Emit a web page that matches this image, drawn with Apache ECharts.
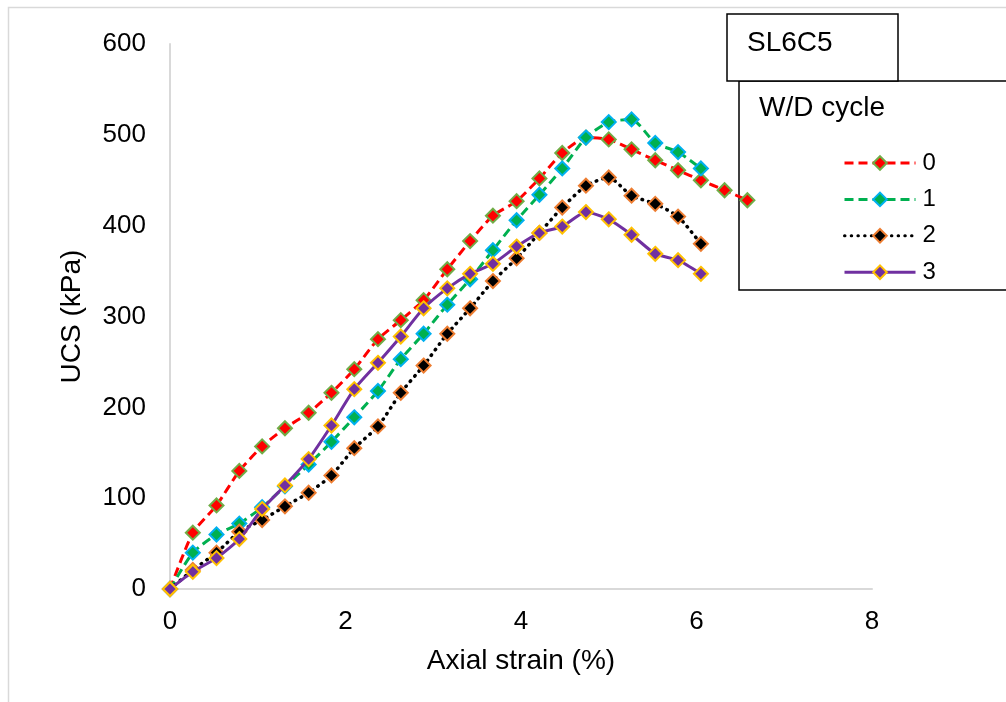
<!DOCTYPE html>
<html>
<head>
<meta charset="utf-8">
<script src="https://cdn.jsdelivr.net/npm/echarts@6/dist/echarts.min.js"></script>
<style>
  html, body { margin: 0; padding: 0; background: #fff; }
  #chart { width: 1006px; height: 702px; }
</style>
</head>
<body>
<div id="chart"></div>
<script>
// Axial strain (%) at each reading
const strain = [0, 0.26, 0.53, 0.79, 1.05, 1.31, 1.58, 1.84, 2.10, 2.37, 2.63, 2.89, 3.16,
                3.42, 3.68, 3.95, 4.21, 4.47, 4.74, 5.00, 5.26, 5.53, 5.79, 6.05, 6.32, 6.58];

// UCS (kPa) for each wetting/drying cycle
const ucsCycle0 = [0, 62, 92, 130, 157, 177, 194, 216, 242, 275, 296, 318, 352,
                   383, 411, 427, 452, 480, 497, 495, 484, 472, 461, 450, 439, 428];
const ucsCycle1 = [0, 40, 60, 72, 90, 113, 137, 162, 189, 218, 253, 281, 313,
                   341, 373, 406, 434, 463, 497, 514, 517, 491, 481, 463];
const ucsCycle2 = [0, 21, 40, 63, 76, 91, 106, 125, 155, 179, 216, 246, 281,
                   309, 339, 364, 392, 420, 444, 453, 433, 424, 410, 380];
const ucsCycle3 = [0, 19, 34, 55, 88, 114, 143, 180, 220, 249, 278, 309, 331,
                   347, 358, 377, 392, 399, 415, 407, 390, 369, 362, 347];

const cycleNames = ['0', '1', '2', '3'];
const xTicks = { min: 0, max: 8, step: 2 };
const yTicks = { min: 0, max: 600, step: 100 };

const FONT = '"Liberation Sans", Arial, sans-serif';

function pairs(values) {
  return values.map((v, i) => [strain[i], v]);
}

const styles = [
  { line: '#FF0000', fill: '#FF0000', border: '#70AD47', dash: [9, 5], cap: 'butt' },
  { line: '#00B050', fill: '#00B050', border: '#00B0F0', dash: [9, 5], cap: 'butt' },
  { line: '#000000', fill: '#000000', border: '#ED7D31', dash: [0.5, 6.2], cap: 'round' },
  { line: '#7030A0', fill: '#7030A0', border: '#FFC000', dash: 'solid', cap: 'butt' }
];
const seriesValues = [ucsCycle0, ucsCycle1, ucsCycle2, ucsCycle3];

const series = seriesValues.map((vals, k) => ({
  name: cycleNames[k],
  type: 'line',
  data: pairs(vals),
  smooth: 0.2,
  symbol: 'diamond',
  symbolSize: 14,
  z: 2 + k,
  itemStyle: { color: styles[k].fill, borderColor: styles[k].border, borderWidth: 2 },
  lineStyle: { color: styles[k].line, width: k === 2 ? 3.5 : 3, type: styles[k].dash, cap: styles[k].cap },
  emphasis: { disabled: true }
}));

const chart = echarts.init(document.getElementById('chart'), null, { renderer: 'canvas' });
chart.setOption({
  animation: false,
  backgroundColor: '#ffffff',
  grid: { left: 170, right: 134, top: 44, bottom: 113, containLabel: false },
  xAxis: {
    type: 'value',
    min: xTicks.min, max: xTicks.max, interval: xTicks.step,
    axisLine: { show: true, lineStyle: { color: '#D9D9D9', width: 2 } },
    axisTick: { show: false },
    splitLine: { show: false },
    axisLabel: { color: '#000', fontSize: 26, fontFamily: FONT, margin: 20 },
    name: 'Axial strain (%)',
    nameLocation: 'middle',
    nameGap: 58,
    nameTextStyle: { color: '#000', fontSize: 28, fontFamily: FONT }
  },
  yAxis: {
    type: 'value',
    min: yTicks.min, max: yTicks.max, interval: yTicks.step,
    axisLine: { show: true, lineStyle: { color: '#D9D9D9', width: 2 } },
    axisTick: { show: false },
    splitLine: { show: false },
    axisLabel: { color: '#000', fontSize: 26, fontFamily: FONT, margin: 24 },
    name: 'UCS (kPa)',
    nameLocation: 'middle',
    nameGap: 84,
    nameTextStyle: { color: '#000', fontSize: 28, fontFamily: FONT }
  },
  legend: {
    data: cycleNames,
    orient: 'vertical',
    left: 843,
    top: 151,
    padding: 0,
    itemWidth: 71,
    itemHeight: 17,
    itemGap: 12.4,
    lineStyle: { width: 3 },
    textStyle: { color: '#000', fontSize: 24, fontFamily: FONT, padding: [0, 0, 0, 2] },
    selectedMode: false
  },
  graphic: [
    {
      type: 'rect', z: 0, silent: true,
      shape: { x: 8.5, y: 7.5, width: 1200, height: 900 },
      style: { fill: 'none', stroke: '#D9D9D9', lineWidth: 1.5 }
    },
    {
      type: 'rect', z: 0, silent: true,
      shape: { x: 739, y: 81, width: 400, height: 209 },
      style: { fill: '#fff', stroke: '#000', lineWidth: 1.5 }
    },
    {
      type: 'rect', z: 0, silent: true,
      shape: { x: 727, y: 14, width: 171, height: 67 },
      style: { fill: '#fff', stroke: '#000', lineWidth: 1.5 }
    },
    {
      type: 'text', z: 1, silent: true,
      style: { x: 747, y: 43, text: 'SL6C5', fill: '#000', font: '28px ' + FONT, verticalAlign: 'middle' }
    },
    {
      type: 'text', z: 1, silent: true,
      style: { x: 759, y: 108, text: 'W/D cycle', fill: '#000', font: '28px ' + FONT, verticalAlign: 'middle' }
    }
  ],
  series: series
});
</script>
</body>
</html>
